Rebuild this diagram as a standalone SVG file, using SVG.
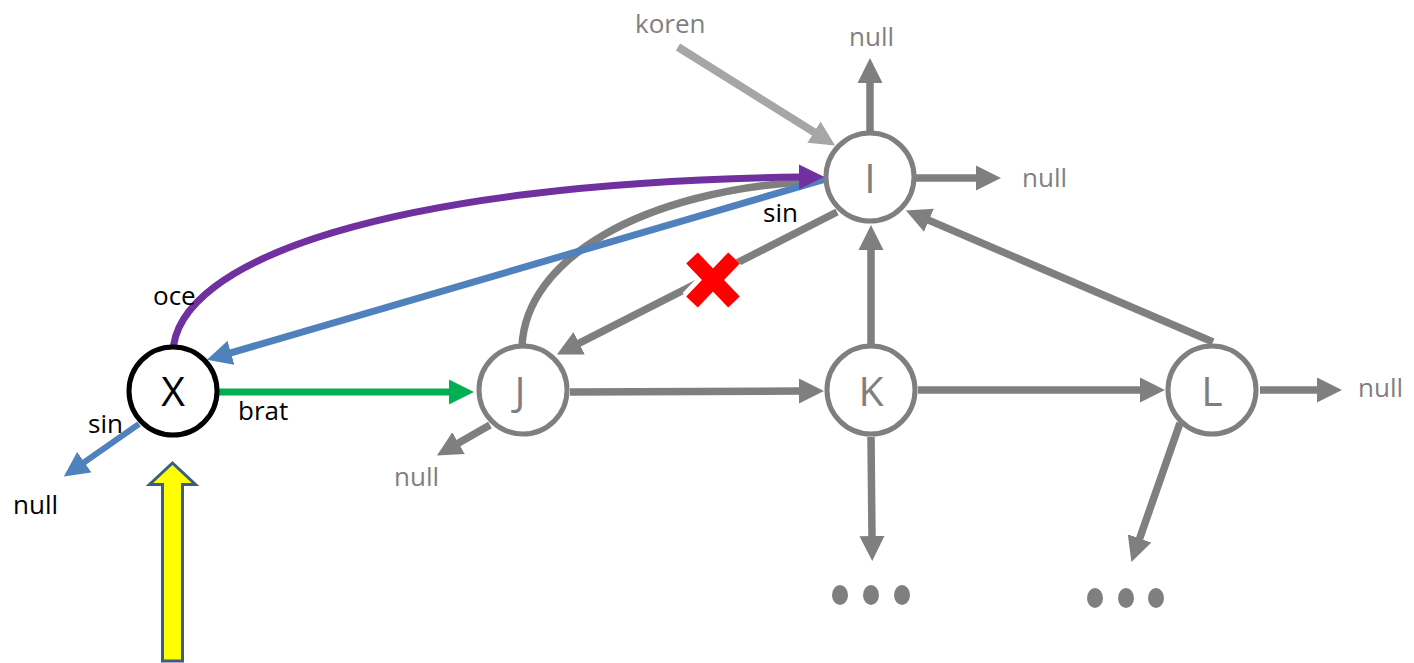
<svg xmlns="http://www.w3.org/2000/svg" width="1414" height="663" viewBox="0 0 1414 663">
<style>
.node{fill:#fff;stroke:#7f7f7f;stroke-width:5}
.nodeX{fill:#fff;stroke:#000;stroke-width:5}
.nl{font-family:"Open Sans","Liberation Sans",sans-serif;font-size:41px;fill:#7f7f7f;text-anchor:middle}
.nlX{font-family:"Open Sans","Liberation Sans",sans-serif;font-size:41px;fill:#000;text-anchor:middle}
.lbl{font-family:"Open Sans","Liberation Sans",sans-serif;font-size:26px;fill:#000}
.lblg{font-family:"Open Sans","Liberation Sans",sans-serif;font-size:26px;fill:#7f7f7f}
.g{fill:none;stroke:#7f7f7f;stroke-width:7.5;marker-end:url(#mg)}
.gn{fill:none;stroke:#7f7f7f;stroke-width:7.5}
.lg{fill:none;stroke:#a6a6a6;stroke-width:8;marker-end:url(#ml)}
.b{fill:none;stroke:#4f81bd;stroke-width:7;marker-end:url(#mb)}
.p{fill:none;stroke:#7030a0;stroke-width:7;marker-end:url(#mp)}
.gr{fill:none;stroke:#00b050;stroke-width:7;marker-end:url(#mgr)}
.dot{fill:#7f7f7f}
</style>
<defs>
<marker id="mg" markerUnits="userSpaceOnUse" markerWidth="26" markerHeight="26" refX="1" refY="13" orient="auto" viewBox="0 0 26 26"><path d="M0,0.5 L25,13 L0,25.5 z" fill="#7f7f7f"/></marker>
<marker id="ml" markerUnits="userSpaceOnUse" markerWidth="26" markerHeight="26" refX="1" refY="13" orient="auto" viewBox="0 0 26 26"><path d="M0,0.5 L25,13 L0,25.5 z" fill="#a6a6a6"/></marker>
<marker id="mb" markerUnits="userSpaceOnUse" markerWidth="26" markerHeight="26" refX="1" refY="13" orient="auto" viewBox="0 0 26 26"><path d="M0,0.5 L25,13 L0,25.5 z" fill="#4f81bd"/></marker>
<marker id="mp" markerUnits="userSpaceOnUse" markerWidth="26" markerHeight="26" refX="1" refY="13" orient="auto" viewBox="0 0 26 26"><path d="M0,0.5 L25,13 L0,25.5 z" fill="#7030a0"/></marker>
<marker id="mgr" markerUnits="userSpaceOnUse" markerWidth="26" markerHeight="26" refX="1" refY="13" orient="auto" viewBox="0 0 26 26"><path d="M0,0.5 L25,13 L0,25.5 z" fill="#00b050"/></marker>
</defs>
<rect width="1414" height="663" fill="#fff"/>

<g id="connectors">
  <!-- koren -->
  <path class="lg" d="M678,47 L814.8,132.7"/>
  <!-- I -> null up / right -->
  <path class="g" d="M870,132 L870,82"/>
  <path class="g" d="M915,178 L977,178"/>
  <!-- I -> J sin (crossed) -->
  <path class="g" d="M837,212 L578.3,343.7"/>
  <!-- J -> I curve -->
  <path class="gn" d="M522,347 C525,260 640,190 815,181"/>
  <!-- K -> I -->
  <path class="g" d="M871,344 L871,249"/>
  <!-- L -> I -->
  <path class="g" d="M1213,342 L928,219.9"/>
  <!-- J -> K -->
  <path class="g" d="M570,392 L800,391"/>
  <!-- J -> null -->
  <path class="g" d="M490,425 L457.7,443.6"/>
  <!-- K -> L -->
  <path class="g" d="M918,390 L1141,390"/>
  <!-- L -> null -->
  <path class="g" d="M1260,390 L1318,390"/>
  <!-- K -> down -->
  <path class="g" d="M871,437 L872,537"/>
  <!-- L -> down -->
  <path class="g" d="M1180,423 L1139.3,539.4"/>
  <!-- blue I -> X -->
  <path class="b" d="M826,179 L230,353.1"/>
  <!-- purple X -> I -->
  <path class="p" d="M173,353 C175,260 390,183 800,177"/>
  <!-- green X -> J -->
  <path class="gr" d="M218,392 L450,392"/>
  <!-- blue sin X -> null -->
  <path class="b" d="M139,424 L83.5,462.8" style="stroke-width:6"/>
</g>

<g id="cross">
  <path d="M692,258 L734,302 M734,258 L692,302" fill="none" stroke="#fff" stroke-width="26"/>
  <path d="M692,258 L734,302 M734,258 L692,302" fill="none" stroke="#ff0000" stroke-width="16"/>
</g>

<g id="node-X">
  <circle class="nodeX" cx="173" cy="391" r="44"/>
  <text class="nlX" x="173" y="406">X</text>
</g>
<g id="node-I">
  <circle class="node" cx="870" cy="177" r="44"/>
  <text class="nl" x="870" y="193">I</text>
</g>
<g id="node-J">
  <circle class="node" cx="523" cy="390" r="44"/>
  <text class="nl" x="520" y="406">J</text>
</g>
<g id="node-K">
  <circle class="node" cx="871" cy="390" r="44"/>
  <text class="nl" x="871" y="406">K</text>
</g>
<g id="node-L">
  <circle class="node" cx="1212" cy="390" r="44"/>
  <text class="nl" x="1212" y="406">L</text>
</g>

<g id="labels">
  <text class="lblg" x="635" y="33">koren</text>
  <text class="lblg" x="849" y="46">null</text>
  <text class="lblg" x="1022" y="187">null</text>
  <text class="lbl" x="763" y="222">sin</text>
  <text class="lbl" x="153" y="305">oce</text>
  <text class="lbl" x="238" y="420">brat</text>
  <text class="lbl" x="88" y="433">sin</text>
  <text class="lbl" x="13" y="514">null</text>
  <text class="lblg" x="394" y="486">null</text>
  <text class="lblg" x="1358" y="397">null</text>
</g>

<g id="dots-K">
  <ellipse class="dot" cx="840" cy="595" rx="8" ry="10"/>
  <ellipse class="dot" cx="871" cy="595" rx="8" ry="10"/>
  <ellipse class="dot" cx="902" cy="595" rx="8" ry="10"/>
</g>
<g id="dots-L">
  <ellipse class="dot" cx="1095" cy="598" rx="8" ry="10"/>
  <ellipse class="dot" cx="1126" cy="598" rx="8" ry="10"/>
  <ellipse class="dot" cx="1156" cy="598" rx="8" ry="10"/>
</g>

<g id="pointer">
  <path d="M172.5,463 L195.5,484.5 L182.5,484.5 L182.5,661 L162.5,661 L162.5,484.5 L149.5,484.5 Z" fill="#ffff00" stroke="#385d8a" stroke-width="3" stroke-linejoin="miter"/>
</g>
</svg>
